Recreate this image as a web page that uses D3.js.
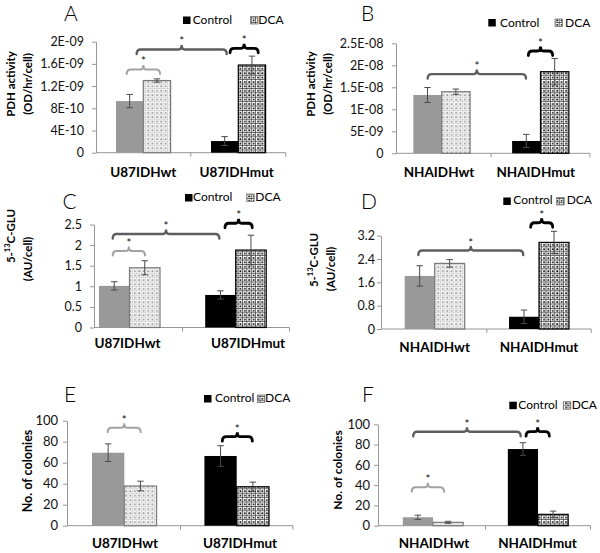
<!DOCTYPE html>
<html><head><meta charset="utf-8">
<script src="https://cdn.jsdelivr.net/npm/d3@7"></script>
<style>
body{margin:0;background:#fff}
svg{display:block;font-family:Lato,"Open Sans",sans-serif}
</style>
</head><body>
<svg id="chart" width="600" height="553"></svg>
<script>
// ---------------- DATA ----------------
const seriesNames = ["Control", "DCA"];
const categoriesU87 = ["U87IDHwt", "U87IDHmut"];
const categoriesNHA = ["NHAIDHwt", "NHAIDHmut"];

// Panel A: PDH activity U87
const controlA = [0.93e-9, 0.21e-9], controlErrA = [0.12e-9, 0.08e-9];
const dcaA = [1.30e-9, 1.58e-9], dcaErrA = [0.03e-9, 0.16e-9];
const ticksA = [0, 4e-10, 8e-10, 1.2e-9, 1.6e-9, 2e-9];
const tickLabelsA = ["0", "4E-10", "8E-10", "1.2E-09", "1.6E-09", "2E-09"];

// Panel B: PDH activity NHA
const controlB = [1.325e-8, 0.28e-8], controlErrB = [0.17e-8, 0.15e-8];
const dcaB = [1.40e-8, 1.855e-8], dcaErrB = [0.06e-8, 0.30e-8];
const ticksB = [0, 5e-9, 1e-8, 1.5e-8, 2e-8, 2.5e-8];
const tickLabelsB = ["0", "5E-09", "1E-08", "1.5E-08", "2E-08", "2.5E-08"];

// Panel C: 5-13C-GLU U87
const controlC = [1.01, 0.79], controlErrC = [0.10, 0.10];
const dcaC = [1.45, 1.88], dcaErrC = [0.17, 0.36];
const ticksC = [0, 0.5, 1, 1.5, 2, 2.5];
const tickLabelsC = ["0", "0.5", "1", "1.5", "2", "2.5"];

// Panel D: 5-13C-GLU NHA
const controlD = [1.82, 0.42], controlErrD = [0.35, 0.23];
const dcaD = [2.25, 2.97], dcaErrD = [0.13, 0.38];
const ticksD = [0, 0.8, 1.6, 2.4, 3.2];
const tickLabelsD = ["0", "0.8", "1.6", "2.4", "3.2"];

// Panel E: colonies U87
const controlE = [69.5, 66.4], controlErrE = [8.4, 9.8];
const dcaE = [37.8, 37.1], dcaErrE = [4.6, 4.4];
// Panel F: colonies NHA
const controlF = [8.3, 75.6], controlErrF = [2.1, 6.2];
const dcaF = [3.3, 11.2], dcaErrF = [1.0, 3.2];
const ticksColonies = [0, 20, 40, 60, 80, 100];
const tickLabelsColonies = ["0", "20", "40", "60", "80", "100"];

// significance brackets: [catFrom, fracFrom, catTo, fracTo, level(value), tone]
const bracketsA = [[0, 0.325, 0, 0.676, 1.50e-9, "light"], [0, 0.43, 1, 0.378, 1.86e-9, "dark"], [1, 0.413, 1, 0.71, 1.88e-9, "black"]];
const bracketsB = [[0, 0.358, 1, 0.353, 1.80e-8, "dark"], [1, 0.377, 1, 0.623, 2.325e-8, "black"]];
const bracketsC = [[0, 0.342, 0, 0.646, 1.857, "light"], [0, 0.342, 1, 0.346, 2.27, "dark"], [1, 0.399, 1, 0.656, 2.53, "black"]];
const bracketsD = [[0, 0.343, 1, 0.349, 2.69, "dark"], [1, 0.42, 1, 0.631, 3.645, "black"]];
const bracketsE = [[0, 0.352, 0, 0.646, 93.3, "light"], [1, 0.372, 1, 0.639, 84.8, "black"]];
const bracketsF = [[0, 0.312, 1, 0.335, 92.7, "dark"], [1, 0.386, 1, 0.608, 92.7, "black"], [0, 0.297, 0, 0.605, 37.9, "light"]];

// ---------------- LAYOUT ----------------
const svg = d3.select("#chart");
const defs = svg.append("defs");
function makePattern(id, line, dot, lw) {
  const s = 4.4;
  const p = defs.append("pattern").attr("id", id).attr("patternUnits", "userSpaceOnUse")
    .attr("width", s).attr("height", s);
  p.append("rect").attr("width", s).attr("height", s).attr("fill", "#fff");
  p.append("rect").attr("width", s).attr("height", lw).attr("fill", line);
  p.append("rect").attr("width", lw).attr("height", s).attr("fill", line);
  p.append("rect").attr("x", 2.0).attr("y", 2.0).attr("width", 1.7).attr("height", 1.7).attr("fill", dot);
}
makePattern("patLight", "#d4d4d4", "#8f8f8f", 0.9);
makePattern("patDark", "#333", "#000", 0.7);

const toneColor = {light: "#a3a3a3", dark: "#5e5e5e", black: "#000"};
const toneWidth = {light: 2, dark: 2.4, black: 2.8};

const panels = [
  {letter: "A", lx: 64, ly: 21, cats: categoriesU87, ctrl: controlA, ctrlE: controlErrA, dca: dcaA, dcaE: dcaErrA,
   ticks: ticksA, tickLabels: tickLabelsA, yDomain: [0, 2e-9], yRange: [152.7, 41.7], axisX: 96, xRange: [95.8, 285.8], xEnd: 285.8,
   tickGap: 12, tickFont: 12.5, title: ["PDH activity", "(OD/hr/cell)"], titleX: [10, 27], titleY: [84, 84], titleFont: 11.5,
   labelShift: [0, -1.6], labelY: 176.7, brackets: bracketsA,
   legend: {sx: 183, sy: 16.5, tx: 192.7, dx: 250.5, dtx: 258.3, by: 23.5}},
  {letter: "B", lx: 361, ly: 21, cats: categoriesNHA, ctrl: controlB, ctrlE: controlErrB, dca: dcaB, dcaE: dcaErrB,
   ticks: ticksB, tickLabels: tickLabelsB, yDomain: [0, 2.5e-8], yRange: [153.3, 43.3], axisX: 396, xRange: [392.3, 589.9], xEnd: 589.9,
   tickGap: 12.5, tickFont: 12.5, title: ["PDH activity", "(OD/hr/cell)"], titleX: [310, 327], titleY: [84, 84], titleFont: 11.5,
   labelShift: [-2.7, -4.7], labelY: 176.7, brackets: bracketsB,
   legend: {sx: 488.3, sy: 19, tx: 500, dx: 555, dtx: 565, by: 26.7}},
  {letter: "C", lx: 62.5, ly: 209, cats: categoriesU87, ctrl: controlC, ctrlE: controlErrC, dca: dcaC, dcaE: dcaErrC,
   ticks: ticksC, tickLabels: tickLabelsC, yDomain: [0, 2.5], yRange: [327.5, 224.5], axisX: 94, xRange: [76.4, 288.8], xEnd: 289.5,
   tickGap: 12, tickFont: 12.5, title: ["5-13C-GLU", "(AU/cell)"], titleX: [10, 27], titleY: [236, 259], titleFont: 11.5,
   labelShift: [-2, 12.3], labelY: 348.3, brackets: bracketsC,
   legend: {sx: 185, sy: 194, tx: 193, dx: 246.7, dtx: 255.3, by: 200.7}},
  {letter: "D", lx: 361, ly: 209, cats: categoriesNHA, ctrl: controlD, ctrlE: controlErrD, dca: dcaD, dcaE: dcaErrD,
   ticks: ticksD, tickLabels: tickLabelsD, yDomain: [0, 3.2], yRange: [329, 235.7], axisX: 381, xRange: [382.5, 591.2], xEnd: 591.2,
   tickGap: 6, tickFont: 12.5, title: ["5-13C-GLU", "(AU/cell)"], titleX: [313, 330], titleY: [260, 269], titleFont: 11.5,
   labelShift: [0, 0], labelY: 351.7, brackets: bracketsD,
   legend: {sx: 503.3, sy: 197.5, tx: 513.3, dx: 556.7, dtx: 566.7, by: 204.3}},
  {letter: "E", lx: 64, ly: 402, cats: categoriesU87, ctrl: controlE, ctrlE: controlErrE, dca: dcaE, dcaE: dcaErrE,
   ticks: ticksColonies, tickLabels: tickLabelsColonies, yDomain: [0, 100], yRange: [525.7, 420.7], axisX: 67, xRange: [68.1, 292.9], xEnd: 292.9,
   tickGap: 9, tickFont: 13, title: ["No. of colonies"], titleX: [27], titleY: [471], titleFont: 12.5,
   labelShift: [0.7, 3.3], labelY: 548.3, brackets: bracketsE,
   legend: {sx: 204, sy: 395, tx: 215, dx: 257.3, dtx: 265, by: 402.3}},
  {letter: "F", lx: 362, ly: 401.5, cats: categoriesNHA, ctrl: controlF, ctrlE: controlErrF, dca: dcaF, dcaE: dcaErrF,
   ticks: ticksColonies, tickLabels: tickLabelsColonies, yDomain: [0, 100], yRange: [525.7, 424.3], axisX: 378, xRange: [380.5, 590.5], xEnd: 590.5,
   tickGap: 8, tickFont: 13, title: ["No. of colonies"], titleX: [337], titleY: [470], titleFont: 12,
   labelShift: [1, -0.5], labelY: 548.3, brackets: bracketsF,
   legend: {sx: 509.3, sy: 401.7, tx: 518.3, dx: 563.3, dtx: 571.7, by: 409}}
];

const axisColor = "#969696";

function drawPanel(p) {
  const g = svg.append("g");
  const x0 = d3.scaleBand().domain(p.cats).range(p.xRange);
  const x1 = d3.scaleBand().domain(seriesNames).range([0, x0.bandwidth()]).paddingInner(0).paddingOuter(0.74);
  const y = d3.scaleLinear().domain(p.yDomain).range(p.yRange);

  // y axis
  const ya = g.append("g").attr("transform", `translate(${p.axisX},0)`)
    .call(d3.axisLeft(y).tickValues(p.ticks).tickFormat((d, i) => p.tickLabels[i])
      .tickSize(4).tickSizeOuter(0).tickPadding(p.tickGap - 4));
  ya.select(".domain").attr("stroke", axisColor);
  ya.selectAll(".tick line").attr("stroke", axisColor);
  ya.selectAll(".tick text").attr("fill", "#111").style("font-size", p.tickFont + "px").style("font-family", "Lato");

  // x axis baseline + boundary ticks
  g.append("line").attr("x1", p.axisX).attr("x2", p.xEnd).attr("y1", y(0)).attr("y2", y(0))
    .attr("stroke", axisColor);
  const bounds = [x0(p.cats[1]), p.xEnd];
  g.selectAll(".xt").data(bounds).join("line").attr("x1", d => d).attr("x2", d => d)
    .attr("y1", y(0)).attr("y2", y(0) + 4).attr("stroke", axisColor);

  // category labels
  g.selectAll(".cl").data(p.cats).join("text")
    .attr("x", (d, i) => x0(d) + x0.bandwidth() / 2 + p.labelShift[i]).attr("y", p.labelY)
    .attr("text-anchor", "middle").style("font-weight", "bold").style("font-size", "13.5px").text(d => d);

  // bars
  const rows = [];
  p.cats.forEach((c, i) => {
    rows.push({cat: c, s: "Control", i, v: p.ctrl[i], e: p.ctrlE[i]});
    rows.push({cat: c, s: "DCA", i, v: p.dca[i], e: p.dcaE[i]});
  });
  const fill = d => d.s === "Control" ? (d.i === 0 ? "#999999" : "#000") : (d.i === 0 ? "url(#patLight)" : "url(#patDark)");
  const stroke = d => d.s === "Control" ? "none" : (d.i === 0 ? "#7a7a7a" : "#000");
  g.selectAll(".bar").data(rows).join("rect")
    .attr("x", d => x0(d.cat) + x1(d.s)).attr("width", x1.bandwidth())
    .attr("y", d => y(d.v)).attr("height", d => y(0) - y(d.v))
    .attr("fill", fill).attr("stroke", stroke).attr("stroke-width", 1.2);

  // error bars
  const eb = g.selectAll(".eb").data(rows).join("g")
    .attr("transform", d => `translate(${x0(d.cat) + x1(d.s) + x1.bandwidth() / 2},0)`)
    .attr("stroke", "#4a4a4a").attr("stroke-width", 1);
  eb.append("line").attr("y1", d => y(d.v + d.e)).attr("y2", d => y(d.v - d.e));
  eb.append("line").attr("x1", -3.2).attr("x2", 3.2).attr("y1", d => y(d.v + d.e)).attr("y2", d => y(d.v + d.e));
  eb.append("line").attr("x1", -3.2).attr("x2", 3.2).attr("y1", d => y(d.v - d.e)).attr("y2", d => y(d.v - d.e));

  // brackets
  p.brackets.forEach(b => {
    const xa = x0(p.cats[b[0]]) + b[1] * x0.bandwidth();
    const xb = x0(p.cats[b[2]]) + b[3] * x0.bandwidth();
    const yy = y(b[4]);
    const xm = (xa + xb) / 2;
    const path = `M${xa},${yy + 4.5} Q${xa},${yy} ${xa + 4},${yy} L${xm - 3},${yy} Q${xm},${yy} ${xm},${yy - 4.5} Q${xm},${yy} ${xm + 3},${yy} L${xb - 4},${yy} Q${xb},${yy} ${xb},${yy + 4.5}`;
    g.append("path").attr("d", path).attr("fill", "none")
      .attr("stroke", toneColor[b[5]]).attr("stroke-width", toneWidth[b[5]]).attr("stroke-linecap", "round");
    g.append("text").attr("x", xm).attr("y", yy - 4).attr("text-anchor", "middle")
      .style("font-size", "11.5px").attr("fill", "#111").text("*");
  });

  // panel letter
  g.append("text").attr("x", p.lx).attr("y", p.ly).style("font-size", "21px").style("font-weight", 300).text(p.letter);

  // y title
  p.title.forEach((t, k) => {
    const tt = g.append("text").attr("transform", `translate(${p.titleX[k]},${p.titleY[k]}) rotate(-90)`)
      .attr("text-anchor", "middle").attr("dominant-baseline", "central")
      .style("font-weight", "bold").style("font-size", p.titleFont + "px");
    if (t.startsWith("5-13C")) {
      tt.append("tspan").text("5-");
      tt.append("tspan").attr("dy", -3).style("font-size", "7.5px").text("13");
      tt.append("tspan").attr("dy", 3).text("C-GLU");
    } else tt.text(t);
  });

  // legend
  const L = p.legend;
  g.append("rect").attr("x", L.sx).attr("y", L.sy).attr("width", 7.5).attr("height", 7.5).attr("fill", "#000");
  g.append("text").attr("x", L.tx).attr("y", L.by).style("font-size", "12px").text(seriesNames[0]);
  g.append("rect").attr("x", L.dx).attr("y", L.sy).attr("width", 7.5).attr("height", 7.5)
    .attr("fill", "url(#patDark)").attr("stroke", "#777").attr("stroke-width", 0.8);
  g.append("text").attr("x", L.dtx).attr("y", L.by).style("font-size", "12px").text(seriesNames[1]);
}
panels.forEach(drawPanel);
</script>
</body></html>
